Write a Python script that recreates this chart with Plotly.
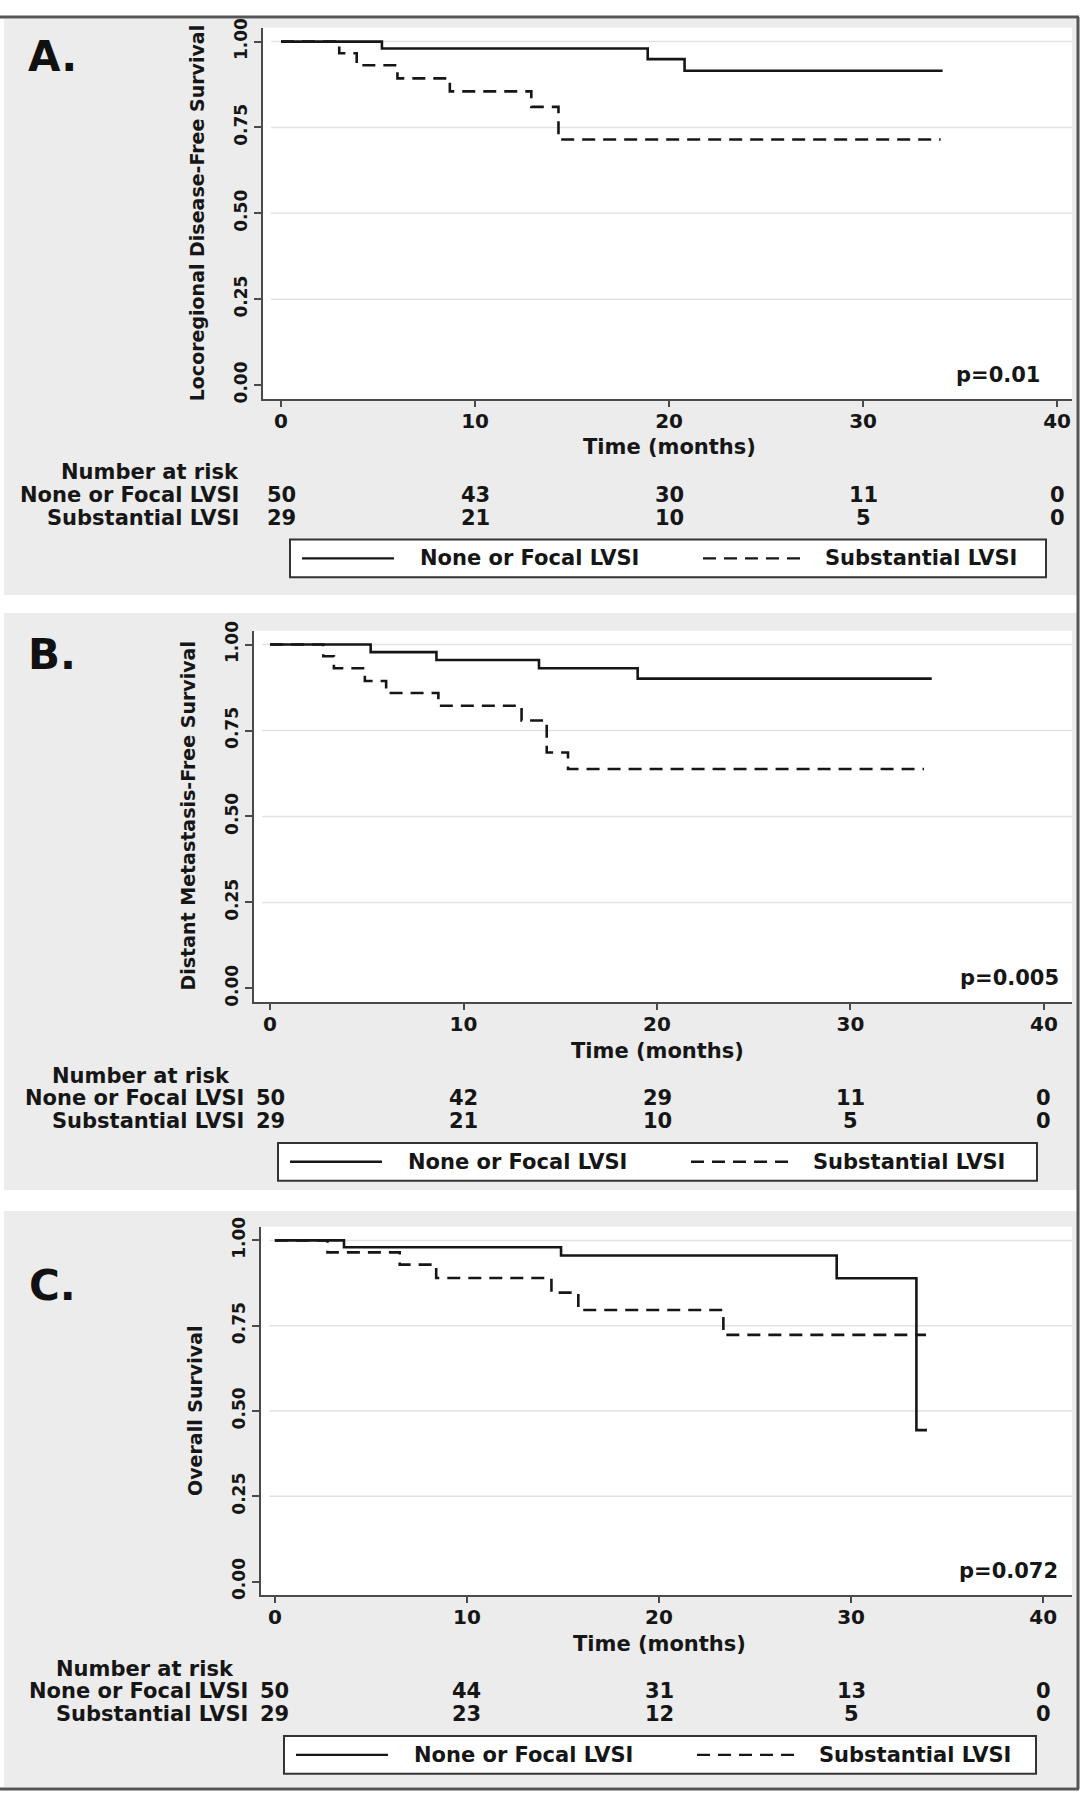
import plotly.graph_objects as go

W, H = 1085, 1800

# shared axis values
months = [0, 10, 20, 30, 40]
surv_ticks = [0, 0.25, 0.5, 0.75, 1.0]
surv_labels = ["0.00", "0.25", "0.50", "0.75", "1.00"]
grid_vals = [0.25, 0.5, 0.75, 1.0]
groups = ["None or Focal LVSI", "Substantial LVSI"]

# A. locoregional disease-free survival
a_none_t = [0, 5.2, 18.9, 20.8, 34.1]
a_none_s = [1.0, 0.98, 0.949, 0.915, 0.915]
a_subst_t = [0, 3.0, 3.9, 6.0, 8.7, 12.9, 14.3, 34.0]
a_subst_s = [1.0, 0.966, 0.931, 0.893, 0.855, 0.81, 0.715, 0.715]
a_risk_none = [50, 43, 30, 11, 0]
a_risk_subst = [29, 21, 10, 5, 0]

# B. distant metastasis-free survival
b_none_t = [0, 5.2, 8.6, 13.9, 19.0, 34.2]
b_none_s = [1.0, 0.978, 0.955, 0.931, 0.901, 0.901]
b_subst_t = [0, 2.75, 3.3, 4.9, 6.0, 8.7, 13.0, 14.3, 15.4, 33.8]
b_subst_s = [1.0, 0.966, 0.931, 0.894, 0.859, 0.822, 0.779, 0.686, 0.638, 0.638]
b_risk_none = [50, 42, 29, 11, 0]
b_risk_subst = [29, 21, 10, 5, 0]

# C. overall survival
c_none_t = [0, 3.6, 14.9, 29.25, 33.4, 33.95]
c_none_s = [1.0, 0.98, 0.956, 0.889, 0.444, 0.444]
c_subst_t = [0, 2.74, 6.5, 8.4, 14.4, 15.8, 23.35, 33.9]
c_subst_s = [1.0, 0.965, 0.929, 0.89, 0.847, 0.796, 0.723, 0.723]
c_risk_none = [50, 44, 31, 13, 0]
c_risk_subst = [29, 23, 12, 5, 0]


def px(x):
    return x / W


def py(y):
    return 1 - y / H


FONT = "DejaVu Sans, Liberation Sans, Arial"
INK = "#161616"
AXC = "#4a4a4a"

panels = [
    dict(letter="A.", ytitle="Locoregional Disease-Free Survival", p="p=0.01", p_x=39.2,
         none=(a_none_t, a_none_s), subst=(a_subst_t, a_subst_s),
         risk=(a_risk_none, a_risk_subst),
         bg=(9, 590), plot=(263, 1072, 18, 392), xr=(-0.93, 40.77),
         letter_y=47, nar_right=241, row_right=241, leg=(290, 1046)),
    dict(letter="B.", ytitle="Distant Metastasis-Free Survival", p="p=0.005", p_x=40.9,
         none=(b_none_t, b_none_s), subst=(b_subst_t, b_subst_s),
         risk=(b_risk_none, b_risk_subst),
         bg=(608, 1190), plot=(254, 1072, 626, 1000.5), xr=(-0.83, 41.45),
         letter_y=650, nar_right=232, row_right=246, leg=(278, 1037)),
    dict(letter="C.", ytitle="Overall Survival", p="p=0.072", p_x=40.9,
         none=(c_none_t, c_none_s), subst=(c_subst_t, c_subst_s),
         risk=(c_risk_none, c_risk_subst),
         bg=(1211, 1792), plot=(261, 1072, 1227, 1598.5), xr=(-0.72, 41.5),
         letter_y=1286, nar_right=236, row_right=250, leg=(284, 1036)),
]

fig = go.Figure()
shapes = []
annotations = []
layout_axes = {}

for i, pn in enumerate(panels):
    n = "" if i == 0 else str(i + 1)
    xa, ya = "x" + n, "y" + n
    left, right, top, bottom = pn["plot"]

    # panel background and white plot region
    shapes.append(dict(type="rect", xref="paper", yref="paper", layer="below",
                       x0=px(4), x1=px(1077), y0=py(pn["bg"][1]), y1=py(pn["bg"][0]),
                       fillcolor="#ececec", line=dict(width=0)))
    shapes.append(dict(type="rect", xref="paper", yref="paper", layer="below",
                       x0=px(left), x1=px(right), y0=py(bottom), y1=py(top),
                       fillcolor="white", line=dict(width=0)))
    for g in grid_vals:
        shapes.append(dict(type="line", xref=xa + " domain", yref=ya, layer="below",
                           x0=0.01, x1=1, y0=g, y1=g,
                           line=dict(color="#e2e2e2", width=1.5)))

    for grp, (t, s), dash in zip(groups, [pn["none"], pn["subst"]], ["solid", "13px,8px"]):
        fig.add_trace(go.Scatter(x=t, y=s, mode="lines", line_shape="hv", name=grp,
                                 line=dict(color=INK, width=2.6, dash=dash),
                                 xaxis=xa, yaxis=ya, showlegend=False))

    layout_axes["xaxis" + n] = dict(
        domain=[px(left), px(right)], range=list(pn["xr"]), anchor=ya,
        tickvals=months, ticks="outside", ticklen=6, tickwidth=2, tickcolor=AXC,
        ticklabelstandoff=-3,
        showline=True, linecolor=AXC, linewidth=2, showgrid=False, zeroline=False,
        tickfont=dict(family=FONT, size=20, color=INK, weight="bold"), fixedrange=True)
    layout_axes["yaxis" + n] = dict(
        domain=[py(bottom), py(top)], range=[-0.04, 1.04], anchor=xa,
        tickvals=surv_ticks, ticktext=surv_labels, tickangle=-90,
        ticks="outside", ticklen=7, tickwidth=2, tickcolor=AXC,
        showline=True, linecolor=AXC, linewidth=2, showgrid=False, zeroline=False,
        tickfont=dict(family=FONT, size=17, color=INK, weight="bold"), fixedrange=True)

    base = dict(showarrow=False, font=dict(family=FONT, size=21, color=INK, weight="bold"))

    annotations.append(dict(base, text=pn["letter"], xref="paper", yref="paper",
                            x=px(52), y=py(pn["letter_y"]), xanchor="center", yanchor="middle",
                            font=dict(family=FONT, size=42, color="#111", weight="bold")))
    annotations.append(dict(base, text=pn["ytitle"], xref="paper", yref="paper", textangle=-90,
                            x=px(left - 66), y=py((top + bottom) / 2),
                            xanchor="center", yanchor="middle",
                            font=dict(family=FONT, size=19, color=INK, weight="bold")))
    annotations.append(dict(base, text="Time (months)", xref=xa, yref="paper",
                            x=20, y=py(bottom + 49), xanchor="center", yanchor="middle"))
    annotations.append(dict(base, text=pn["p"], xref=xa, yref=ya,
                            x=pn["p_x"], y=0.03, xanchor="right", yanchor="middle"))

    # number at risk table
    annotations.append(dict(base, text="Number at risk", xref="paper", yref="paper",
                            x=px(pn["nar_right"]), y=py(bottom + 74),
                            xanchor="right", yanchor="middle"))
    for k, (grp, counts) in enumerate(zip(groups, pn["risk"])):
        yy = py(bottom + 97 + 23 * k)
        annotations.append(dict(base, text=grp, xref="paper", yref="paper",
                                x=px(pn["row_right"]), y=yy, xanchor="right", yanchor="middle"))
        for m, c in zip(months, counts):
            annotations.append(dict(base, text=str(c), xref=xa, yref="paper",
                                    x=m, y=yy, xanchor="center", yanchor="middle"))

    # legend box
    l0, l1 = pn["leg"]
    lt, lb = bottom + 142, bottom + 180
    lm = (lt + lb) / 2
    shapes.append(dict(type="rect", xref="paper", yref="paper",
                       x0=px(l0), x1=px(l1), y0=py(lb), y1=py(lt),
                       fillcolor="white", line=dict(color="#333", width=2)))
    shapes.append(dict(type="line", xref="paper", yref="paper",
                       x0=px(l0 + 12), x1=px(l0 + 104), y0=py(lm), y1=py(lm),
                       line=dict(color=INK, width=2.4)))
    shapes.append(dict(type="line", xref="paper", yref="paper",
                       x0=px(l0 + 413), x1=px(l0 + 514), y0=py(lm), y1=py(lm),
                       line=dict(color=INK, width=2.4, dash="13px,8px")))
    annotations.append(dict(base, text=groups[0], xref="paper", yref="paper",
                            x=px(l0 + 128), y=py(lm), xanchor="left", yanchor="middle"))
    annotations.append(dict(base, text=groups[1], xref="paper", yref="paper",
                            x=px(l0 + 533), y=py(lm), xanchor="left", yanchor="middle"))

# outer frame lines
shapes.append(dict(type="line", xref="paper", yref="paper", x0=0, x1=px(1079),
                   y0=py(7), y1=py(7), line=dict(color="#555", width=3)))
shapes.append(dict(type="line", xref="paper", yref="paper", x0=px(1078), x1=px(1078),
                   y0=py(7), y1=py(1794), line=dict(color="#555", width=3)))
shapes.append(dict(type="line", xref="paper", yref="paper", x0=0, x1=px(1079),
                   y0=py(1794), y1=py(1794), line=dict(color="#555", width=3)))

fig.update_layout(
    width=W, height=H, autosize=False,
    margin=dict(l=0, r=0, t=0, b=0),
    paper_bgcolor="white", plot_bgcolor="rgba(0,0,0,0)",
    shapes=shapes, annotations=annotations,
    **layout_axes,
)

# drop the browser's default page margin so the figure sits at the window corner
fig.write_html("out.html", config={"displayModeBar": False},
               post_script="document.body.style.margin='0';")
